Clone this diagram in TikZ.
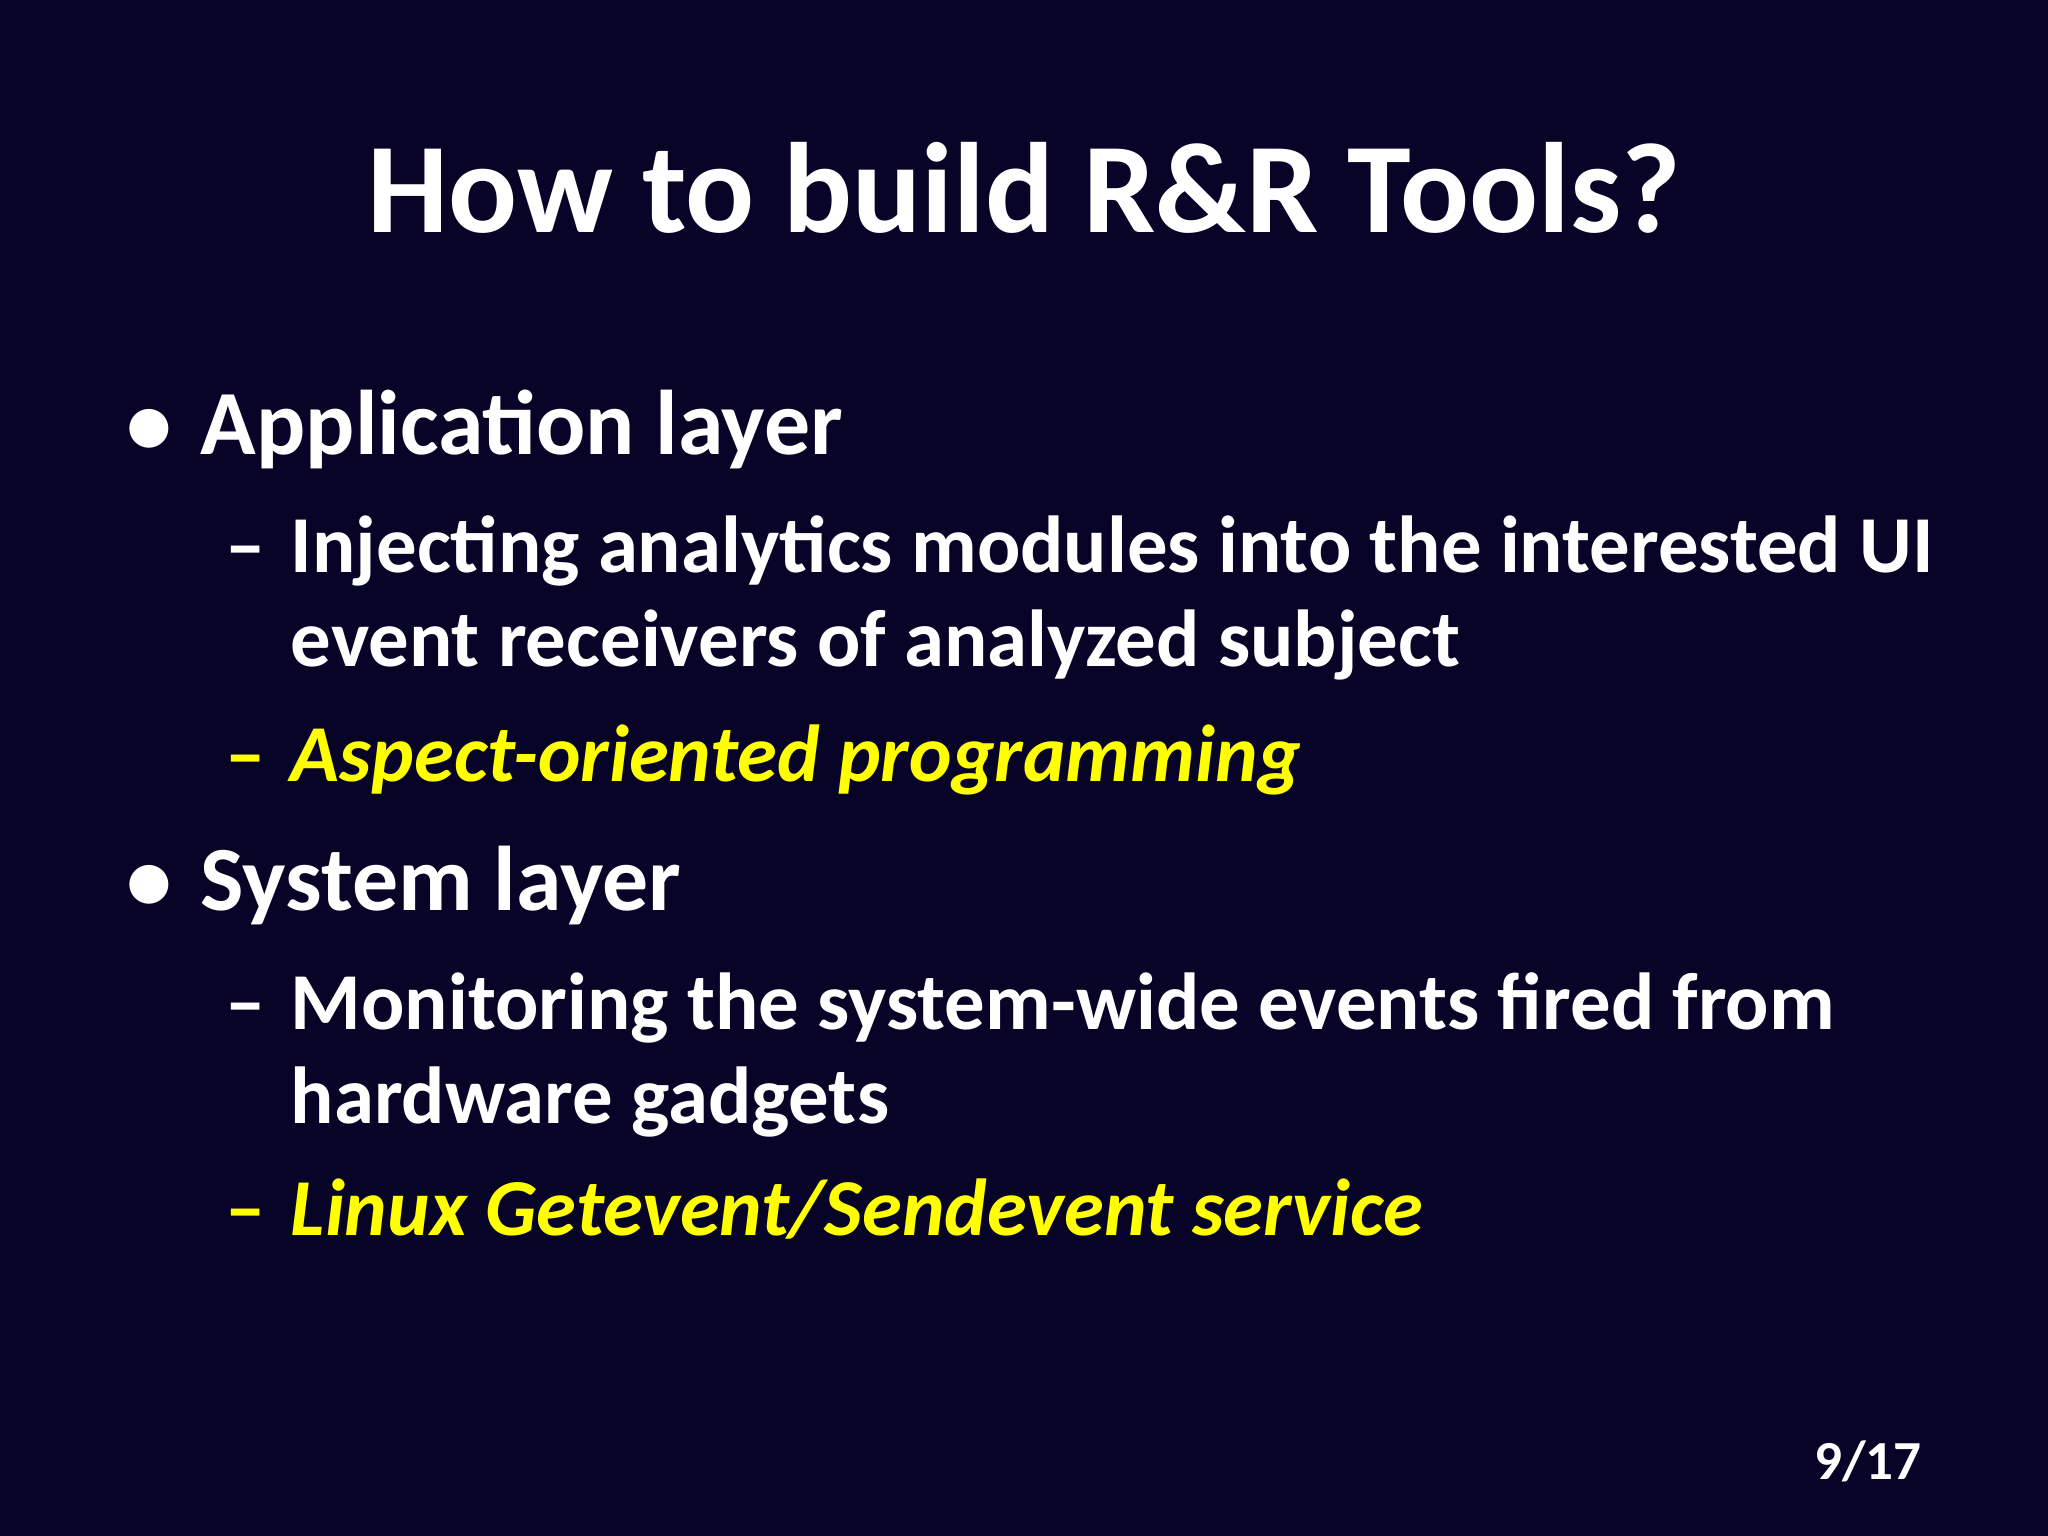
\documentclass[tikz,border=0pt]{standalone}
\usepackage{fontspec}
\setmainfont{Carlito}
\definecolor{bg}{RGB}{8,4,40}
\definecolor{yel}{RGB}{255,255,0}
\begin{document}
\begin{tikzpicture}[x=1mm,y=-1mm,
  tl/.style={anchor=base west,inner sep=0pt,text=white,font=\bfseries\fontsize{20}{24}\selectfont},
  sl/.style={anchor=base west,inner sep=0pt,text=white,font=\bfseries\fontsize{17.6}{21}\selectfont},
  yl/.style={sl,text=yel,font=\bfseries\itshape\fontsize{17.6}{21}\selectfont}]
\fill[bg] (0,0) rectangle (156.8,117.6);
\useasboundingbox (0,0) rectangle (156.8,117.6);
\node[anchor=base,inner sep=0pt,text=white,font=\bfseries\fontsize{28}{32}\selectfont] (title) at (78.4,17.8) {How to build R\&R Tools?};
\node[tl] (b1) at (9.6,34.8) {•};
\node[tl] (a) at (15.3,34.8) {Application layer};
\node[sl] (d1) at (17.2,43.8) {–};
\node[sl] (i1) at (22.2,43.8) {Injecting analytics modules into the interested UI};
\node[sl] (i2) at (22.2,51.0) {event receivers of analyzed subject};
\node[sl,text=yel] (d2) at (17.2,59.8) {–};
\node[yl] (asp) at (22.2,59.8) {Aspect-oriented programming};
\node[tl] (b2) at (9.6,69.7) {•};
\node[tl] (sys) at (15.3,69.7) {System layer};
\node[sl] (d3) at (17.2,78.8) {–};
\node[sl] (m1) at (22.2,78.8) {Monitoring the system-wide events fired from};
\node[sl] (m2) at (22.2,86.0) {hardware gadgets};
\node[sl,text=yel] (d4) at (17.2,94.6) {–};
\node[yl] (lin) at (22.2,94.6) {Linux Getevent/Sendevent service};
\node[anchor=base east,inner sep=0pt,text=white,font=\bfseries\fontsize{12}{14}\selectfont] (pg) at (147.2,113.3) {9/17};
\end{tikzpicture}
\end{document}
